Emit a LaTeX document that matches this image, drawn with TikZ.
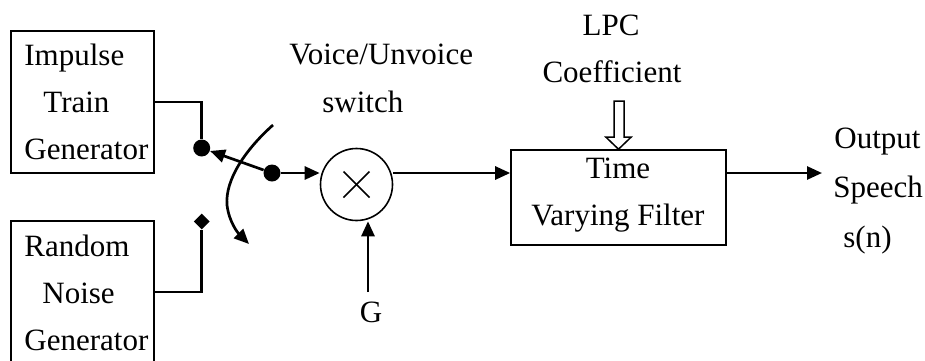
\documentclass[tikz,border=0pt]{standalone}
\usepackage{fontspec}
\setmainfont{Liberation Serif}
\usetikzlibrary{arrows.meta,shapes.geometric}
\begin{document}
\begin{tikzpicture}[x=0.5pt,y=-0.5pt,
  txt/.style={font=\fontsize{15.5pt}{18pt}\selectfont, inner sep=0pt},
  box/.style={draw, line width=0.8pt, rectangle, inner sep=0pt},
  wire/.style={line width=1.35pt},
  arr/.style={wire, -{Triangle[length=7.5pt,width=6.5pt]}},
  dotn/.style={circle, fill, inner sep=0pt, minimum size=8.5pt},
  dian/.style={diamond, fill, inner sep=0pt, minimum width=8pt, minimum height=8pt},
]
\useasboundingbox (0,0) rectangle (925,360);
% blocks
\node[box, minimum width=71.5pt, minimum height=71pt] (imp) at (82.5,102) {};
\node[box, minimum width=71.5pt, minimum height=71pt] (rnd) at (82.5,292) {};
\node[box, minimum width=107.5pt, minimum height=47.5pt] (filt) at (618.5,197.5) {};
\node[draw, circle, line width=0.8pt, minimum size=36pt, inner sep=0pt] (mult) at (356.5,184.5) {};
\draw[line width=0.75pt] ([shift={(-13,-13)}]mult.center) -- ([shift={(13,13)}]mult.center);
\draw[line width=0.75pt] ([shift={(-13,13)}]mult.center) -- ([shift={(13,-13)}]mult.center);
% switch contacts
\node[dotn] (dot1) at (201.7,148) {};
\node[dotn] (dot2) at (272,173) {};
\node[dian] (dia) at (201.7,221.5) {};
% texts
\node[txt, anchor=base west] (t1) at (24,65) {Impulse};
\node[txt, anchor=base west] (t2) at (43,112) {Train};
\node[txt, anchor=base west] (t3) at (24,159) {Generator};
\node[txt, anchor=base west] (r1) at (24,256) {Random};
\node[txt, anchor=base west] (r2) at (42,303) {Noise};
\node[txt, anchor=base west] (r3) at (24,350) {Generator};
\node[txt, anchor=base west] (v1) at (289,64) {Voice/Unvoice};
\node[txt, anchor=base west] (v2) at (322,112) {switch};
\node[txt, anchor=base] (l1) at (611,35) {LPC};
\node[txt, anchor=base] (l2) at (612,82) {Coefficient};
\node[txt, anchor=base] (f1) at (618,178) {Time};
\node[txt, anchor=base] (f2) at (618,225) {Varying Filter};
\node[txt, anchor=base west] (o1) at (834,148) {Output};
\node[txt, anchor=base west] (o2) at (833,197) {Speech};
\node[txt, anchor=base west] (o3) at (843,247) {s(n)};
\node[txt, anchor=base] (g) at (371,322) {G};
% free ends
\coordinate (outtip) at (822,173);
\coordinate (gtail) at (368,292);
\coordinate (cs) at (273,125);
\coordinate (ce) at (249,244);
% connectors
\draw[wire] (imp.east) -| (dot1);
\draw[wire] (rnd.east) -| (dia);
\draw[arr] (dot2) -- (dot1);
\draw[arr] (dot2) -- (dot2 -| mult.west);
\draw[arr] (dot2 -| mult.east) -- (dot2 -| filt.west);
\draw[arr] (dot2 -| filt.east) -- (outtip);
\draw[arr] (gtail) -- (gtail |- mult.south);
\draw[arr] (cs) .. controls (245,150) and (225,180) .. (227,205) .. controls (229,222) and (238,233) .. (ce);
% hollow LPC arrow
\draw[line width=0.75pt] (filt.north) -- ++(-12.5,-12) -- ++(8,0) -- ++(0,-36) -- ++(10,0) -- ++(0,36) -- ++(7,0) -- cycle;
\end{tikzpicture}
\end{document}
